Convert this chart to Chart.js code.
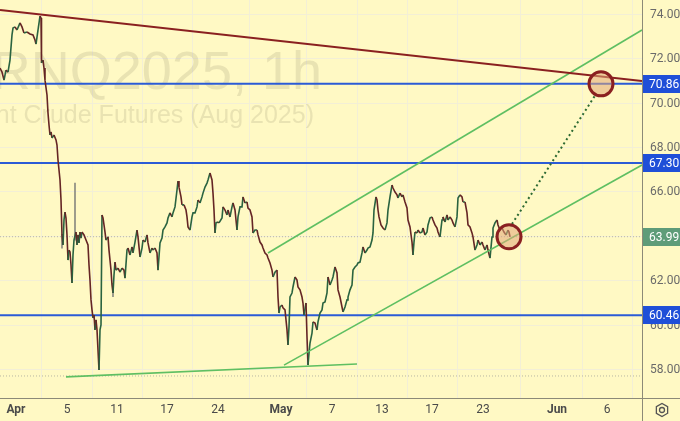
<!DOCTYPE html>
<html>
<head>
<meta charset="utf-8">
<script src="https://cdn.jsdelivr.net/npm/chart.js@4.4.1/dist/chart.umd.min.js"></script>
<style>
  html, body { margin: 0; padding: 0; background: #fff9c4; }
  #wrap { width: 680px; height: 421px; }
</style>
</head>
<body>
<div id="wrap"><canvas id="chart" width="680" height="421"></canvas></div>
<script>
// Brent (BRNQ2025) hourly - x is trading-day index counted from Apr 1
const barDays = [
  -1.28, -1.12, -0.96, -0.80, -0.64, -0.48, -0.32, -0.24, -0.08, 0.08, 0.32, 0.48, 0.64, 0.88, 1.12, 1.36, 1.52, 1.60, 1.76, 1.92,
  2.00, 2.04, 2.16, 2.24, 2.32, 2.48, 2.56, 2.64, 2.72, 2.80, 2.88, 3.04, 3.20, 3.28, 3.36, 3.44, 3.52, 3.60, 3.68, 3.76,
  3.84, 3.92, 4.00, 4.08, 4.16, 4.24, 4.32, 4.40, 4.48, 4.56, 4.64, 4.80, 4.88, 4.96, 5.04, 5.12, 5.20, 5.28, 5.44, 5.60,
  5.76, 5.84, 5.92, 6.00, 6.08, 6.16, 6.24, 6.32, 6.40, 6.48, 6.56, 6.64, 6.72, 6.80, 6.88, 6.96, 7.04, 7.12, 7.20, 7.36,
  7.44, 7.52, 7.60, 7.68, 7.76, 7.84, 7.92, 8.00, 8.16, 8.32, 8.48, 8.64, 8.72, 8.88, 8.96, 9.12, 9.28, 9.36, 9.52, 9.68,
  9.76, 9.92, 10.08, 10.16, 10.32, 10.48, 10.56, 10.72, 10.88, 10.96, 11.12, 11.28, 11.36, 11.52, 11.68, 11.76, 11.92, 12.08, 12.16, 12.32,
  12.48, 12.56, 12.72, 12.88, 12.96, 13.04, 13.20, 13.28, 13.44, 13.60, 13.68, 13.76, 13.92, 14.08, 14.16, 14.32, 14.48, 14.56, 14.72, 14.88,
  14.96, 15.12, 15.28, 15.36, 15.52, 15.68, 15.76, 15.84, 15.92, 16.00, 16.16, 16.24, 16.48, 16.56, 16.72, 16.88, 16.96, 17.12, 17.28, 17.36,
  17.52, 17.68, 17.76, 17.92, 18.08, 18.16, 18.32, 18.48, 18.56, 18.72, 18.88, 18.96, 19.12, 19.28, 19.36, 19.52, 19.68, 19.76, 19.92, 20.08,
  20.16, 20.32, 20.48, 20.56, 20.72, 20.88, 20.96, 21.04, 21.12, 21.28, 21.36, 21.52, 21.68, 21.76, 21.84, 21.92, 22.08, 22.16, 22.32, 22.48,
  22.56, 22.72, 22.88, 22.96, 23.04, 23.20, 23.28, 23.36, 23.44, 23.52, 23.68, 23.76, 23.92, 24.08, 24.16, 24.32, 24.48, 24.56, 24.72, 24.88,
  24.96, 25.12, 25.28, 25.36, 25.52, 25.68, 25.76, 25.92, 26.08, 26.16, 26.32, 26.48, 26.56, 26.72, 26.88, 26.96, 27.12, 27.28, 27.36, 27.52,
  27.68, 27.76, 27.92, 28.08, 28.16, 28.32, 28.48, 28.56, 28.64, 28.80, 28.88, 28.96, 29.04, 29.20, 29.36, 29.52, 29.68, 29.76, 29.92, 30.08,
  30.16, 30.32, 30.48, 30.56, 30.72, 30.88, 30.96, 31.12, 31.28, 31.36, 31.52, 31.68, 31.76, 31.84, 31.92, 32.08, 32.16, 32.32, 32.48, 32.56,
  32.72, 32.88, 32.96, 33.12, 33.28, 33.36, 33.52, 33.68, 33.76, 33.92, 34.08, 34.16, 34.32, 34.48, 34.56, 34.72, 34.88, 34.96, 35.12, 35.28,
  35.36, 35.52, 35.68, 35.76, 35.92, 36.08, 36.16, 36.32, 36.48, 36.56, 36.72, 36.88, 36.96, 37.12, 37.28, 37.36, 37.52, 37.68, 37.76, 37.92,
  38.08, 38.16, 38.32, 38.48, 38.56, 38.72, 38.88, 39.04, 39.20, 39.36, 39.44, 39.52
];
const barClose = [
  71.57, 71.39, 71.03, 71.48, 71.39, 71.93, 73.06, 73.37, 73.42, 73.28, 73.60, 73.42, 73.15, 73.19, 73.10, 73.06, 72.83, 72.65, 73.28, 73.91,
  73.82, 71.80, 71.93, 71.57, 71.03, 70.36, 69.55, 69.01, 68.56, 68.70, 68.43, 68.56, 68.34, 68.11, 67.44, 66.99, 66.54, 65.64, 64.07, 63.62,
  64.74, 65.10, 64.83, 64.07, 62.94, 63.39, 63.30, 62.72, 61.91, 63.17, 63.84, 64.20, 63.62, 64.07, 63.71, 64.20, 63.93, 64.20, 64.07, 63.84,
  63.62, 62.72, 62.04, 61.15, 60.70, 60.34, 60.47, 59.80, 60.25, 59.80, 58.90, 58.00, 59.80, 60.02, 64.97, 64.83, 64.52, 64.20, 63.84, 63.98,
  63.39, 62.94, 62.49, 61.82, 61.46, 62.27, 62.85, 62.49, 62.58, 62.40, 62.58, 62.49, 62.13, 63.39, 63.48, 63.17, 63.53, 63.26, 63.75, 64.29,
  63.98, 63.08, 63.48, 63.84, 63.75, 64.07, 63.71, 63.26, 63.48, 63.39, 63.48, 63.26, 62.49, 63.71, 63.93, 64.29, 64.43, 64.61, 64.83, 65.06,
  64.88, 65.06, 65.33, 66.09, 66.49, 66.22, 65.78, 65.42, 65.42, 65.19, 64.88, 64.43, 64.29, 64.88, 65.06, 65.06, 65.33, 65.64, 65.51, 65.78,
  65.95, 66.22, 66.40, 66.54, 66.85, 66.54, 65.95, 65.19, 64.16, 64.61, 64.65, 64.61, 64.83, 65.33, 65.19, 64.97, 65.19, 64.88, 65.33, 65.51,
  65.19, 64.29, 64.88, 65.33, 65.33, 65.78, 65.51, 65.55, 65.28, 65.19, 64.88, 64.16, 64.29, 64.29, 64.07, 63.75, 63.62, 63.48, 63.26, 63.17,
  63.03, 62.81, 62.49, 62.18, 62.40, 62.49, 61.28, 60.56, 60.83, 60.92, 60.79, 60.70, 59.80, 59.12, 59.93, 61.28, 61.46, 61.73, 62.18, 62.04,
  61.73, 61.60, 61.28, 61.01, 60.47, 61.01, 59.48, 58.22, 58.76, 59.21, 59.66, 60.16, 60.11, 59.80, 60.16, 60.56, 60.70, 61.01, 61.06, 61.46,
  62.18, 61.82, 62.04, 62.18, 62.63, 62.36, 61.60, 61.28, 60.83, 60.61, 60.83, 61.15, 61.28, 61.60, 61.82, 62.49, 62.63, 62.72, 62.81, 62.85,
  63.26, 63.53, 63.26, 63.39, 63.48, 63.53, 63.84, 64.16, 65.19, 65.78, 65.64, 65.19, 64.88, 64.52, 64.38, 64.29, 64.61, 65.19, 65.78, 66.31,
  66.18, 66.00, 65.87, 65.73, 65.95, 65.78, 65.87, 65.55, 65.28, 64.74, 64.43, 63.75, 63.17, 63.75, 64.20, 64.16, 64.29, 64.16, 64.20, 64.38,
  64.07, 64.20, 64.52, 64.83, 64.88, 64.74, 64.52, 64.38, 64.20, 63.98, 64.74, 64.88, 64.65, 64.97, 64.74, 64.88, 64.74, 64.61, 64.43, 64.88,
  65.73, 65.87, 65.78, 65.55, 65.55, 65.06, 64.52, 64.43, 64.16, 63.98, 63.39, 63.62, 63.84, 63.62, 63.75, 63.62, 63.39, 63.62, 63.39, 63.03,
  63.98, 64.38, 64.61, 64.74, 64.52, 64.29, 64.38, 64.20, 64.07, 64.29, 64.20, 63.99
];

// long wicks that stick out of the line
const wickDays = [3.68, 4.72, 7.76];
const wickLow = [63.48, 63.84, 61.30];
const wickHigh = [64.10, 66.40, 61.90];

// horizontal levels (blue) and last price
const levels = [70.86, 67.30, 60.46];
const lastPrice = 63.99;
const lowDotted = 57.73;

// drawn trend lines: [day, price] pairs
const resistLine = [[-1.28, 74.18], [50.08, 70.99]];
const channelTop = [[20.16, 63.26], [50.08, 73.28]];
const channelBottom = [[21.44, 58.22], [50.08, 67.21]];
const supportLine = [[4.00, 57.69], [27.28, 58.27]];
const projection = [[39.68, 64.56], [46.40, 70.40]];
const circles = [[39.44, 63.99], [46.80, 70.86]];

// axis ticks
const yTicks = [58, 60, 62, 64, 66, 68, 70, 72, 74];
const xTickPos = [0, 4.08, 8.08, 12.08, 16.16, 21.2, 25.28, 29.28, 33.28, 37.36, 43.28, 47.28];
const xTickLabels = ['Apr', '5', '11', '17', '24', 'May', '7', '13', '17', '23', 'Jun', '6'];

const X_MIN = -1.28, X_MAX = 50.08;
const Y_MIN = 56.74, Y_MAX = 74.63;

const UP = '#2a6340';
const DOWN = '#652525';
const BLUE = '#2b5bd6';
const GREEN = '#5fbf62';
const BROWN = '#8a2020';
const FONT = 'Roboto, "Liberation Sans", sans-serif';

function pts(pairs) {
    return pairs.map(p => ({ x: p[0], y: p[1] }));
}

function hline(v) {
    return [{ x: X_MIN, y: v }, { x: X_MAX, y: v }];
}

const bgPlugin = {
    id: 'bg',
    beforeDraw(chart) {
        const c = chart.ctx;
        c.save();
        c.fillStyle = '#fff9c4';
        c.fillRect(0, 0, chart.width, chart.height);
        c.restore();
    }
};

const watermarkPlugin = {
    id: 'watermark',
    beforeDatasetsDraw(chart) {
        const c = chart.ctx;
        const a = chart.chartArea;
        c.save();
        c.beginPath();
        c.rect(a.left, a.top, a.right - a.left, a.bottom - a.top);
        c.clip();
        c.fillStyle = 'rgba(125, 120, 90, 0.17)';
        c.textAlign = 'right';
        c.textBaseline = 'alphabetic';
        c.font = '54px "Liberation Sans", Arial, sans-serif';
        c.fillText('BRNQ2025, 1h', 322, 89);
        c.font = '25px "Liberation Sans", Arial, sans-serif';
        c.fillText('Brent Crude Futures (Aug 2025)', 314, 123);
        c.restore();
    }
};

// axis labels, borders, price tags
const overlayPlugin = {
    id: 'overlay',
    afterDraw(chart) {
        const c = chart.ctx;
        const a = chart.chartArea;
        const xs = chart.scales.x;
        const y = chart.scales.y;
        c.save();

        c.fillStyle = '#6a6a6a';
        c.font = '12px ' + FONT;
        c.textAlign = 'left';
        c.textBaseline = 'middle';
        yTicks.forEach(v => {
            c.fillText(v.toFixed(2), a.right + 8, y.getPixelForValue(v) + 0.5);
        });

        c.textAlign = 'center';
        c.fillStyle = '#4a4a4a';
        xTickPos.forEach((p, i) => {
            const lab = xTickLabels[i];
            c.font = (/^[A-Z]/.test(lab) ? 'bold ' : '') + '12px ' + FONT;
            c.fillText(lab, xs.getPixelForValue(p), a.bottom + 12);
        });

        c.strokeStyle = '#8c8a78';
        c.lineWidth = 1;
        c.beginPath();
        c.moveTo(0, a.bottom + 0.5);
        c.lineTo(chart.width, a.bottom + 0.5);
        c.moveTo(a.right + 0.5, 0);
        c.lineTo(a.right + 0.5, chart.height);
        c.stroke();

        const boxes = levels.map(v => ({ v, color: '#1f4fd8' }));
        boxes.push({ v: lastPrice, color: '#5e9c79' });
        c.font = '12px ' + FONT;
        c.textAlign = 'left';
        boxes.forEach(b => {
            const py = Math.round(y.getPixelForValue(b.v));
            c.fillStyle = b.color;
            c.fillRect(a.right + 1, py - 9, chart.width - a.right - 1, 18);
            c.fillStyle = '#ffffff';
            c.fillText(b.v.toFixed(2), a.right + 7, py + 0.5);
        });

        // settings gear in the corner
        const gx = 662, gy = 410;
        c.strokeStyle = '#555';
        c.lineWidth = 1.3;
        c.beginPath();
        for (let i = 0; i < 6; i++) {
            const ang = Math.PI / 6 + i * Math.PI / 3;
            const px = gx + 6.5 * Math.cos(ang), py = gy + 6.5 * Math.sin(ang);
            if (i === 0) c.moveTo(px, py); else c.lineTo(px, py);
        }
        c.closePath();
        c.stroke();
        c.beginPath();
        c.arc(gx, gy, 2.5, 0, Math.PI * 2);
        c.stroke();
        c.restore();
    }
};

const datasets = [
    {
        type: 'bubble',
        data: circles.map(p => ({ x: p[0], y: p[1], r: 12 })),
        backgroundColor: 'rgba(226, 168, 120, 0.55)',
        borderColor: BROWN,
        borderWidth: 3,
        order: 1
    },
    {
        type: 'line',
        data: pts(projection),
        borderColor: '#2d6a33',
        borderWidth: 2,
        borderDash: [2, 3],
        pointRadius: 0,
        order: 2
    },
    {
        type: 'line',
        data: pts(resistLine),
        borderColor: BROWN,
        borderWidth: 2,
        pointRadius: 0,
        order: 3
    },
    ...[channelTop, channelBottom, supportLine].map(l => ({
        type: 'line',
        data: pts(l),
        borderColor: GREEN,
        borderWidth: 1.6,
        pointRadius: 0,
        order: 4
    })),
    {
        type: 'line',
        data: barDays.map((d, i) => ({ x: d, y: barClose[i] })),
        borderWidth: 1.6,
        borderColor: DOWN,
        pointRadius: 0,
        tension: 0,
        segment: {
            borderColor: ctx => ctx.p1.parsed.y >= ctx.p0.parsed.y ? UP : DOWN
        },
        order: 5
    },
    {
        type: 'bar',
        data: wickDays.map((d, i) => ({ x: d, y: [wickLow[i], wickHigh[i]] })),
        backgroundColor: '#8a8a80',
        barThickness: 1,
        order: 6
    },
    ...levels.map(v => ({
        type: 'line',
        data: hline(v),
        borderColor: BLUE,
        borderWidth: 2,
        pointRadius: 0,
        order: 7
    })),
    ...[lastPrice, lowDotted].map(v => ({
        type: 'line',
        data: hline(v),
        borderColor: '#b8b6a2',
        borderWidth: 1,
        borderDash: [1, 2],
        pointRadius: 0,
        order: 8
    }))
];

new Chart(document.getElementById('chart'), {
    data: { datasets },
    options: {
        responsive: false,
        animation: false,
        layout: { padding: 0, autoPadding: false },
        plugins: {
            legend: { display: false },
            tooltip: { enabled: false }
        },
        scales: {
            x: {
                type: 'linear',
                min: X_MIN,
                max: X_MAX,
                offset: false,
                afterBuildTicks: s => { s.ticks = xTickPos.map(v => ({ value: v })); },
                afterFit: s => { s.height = 23; },
                grid: { color: '#f3efd6', lineWidth: 1, drawTicks: false },
                border: { display: false },
                ticks: { display: false }
            },
            y: {
                type: 'linear',
                position: 'right',
                min: Y_MIN,
                max: Y_MAX,
                afterBuildTicks: s => { s.ticks = yTicks.map(v => ({ value: v })); },
                afterFit: s => { s.width = 38; },
                grid: { color: '#f3efd6', lineWidth: 1, drawTicks: false },
                border: { display: false },
                ticks: { display: false }
            }
        }
    },
    plugins: [bgPlugin, watermarkPlugin, overlayPlugin]
});
</script>
</body>
</html>
